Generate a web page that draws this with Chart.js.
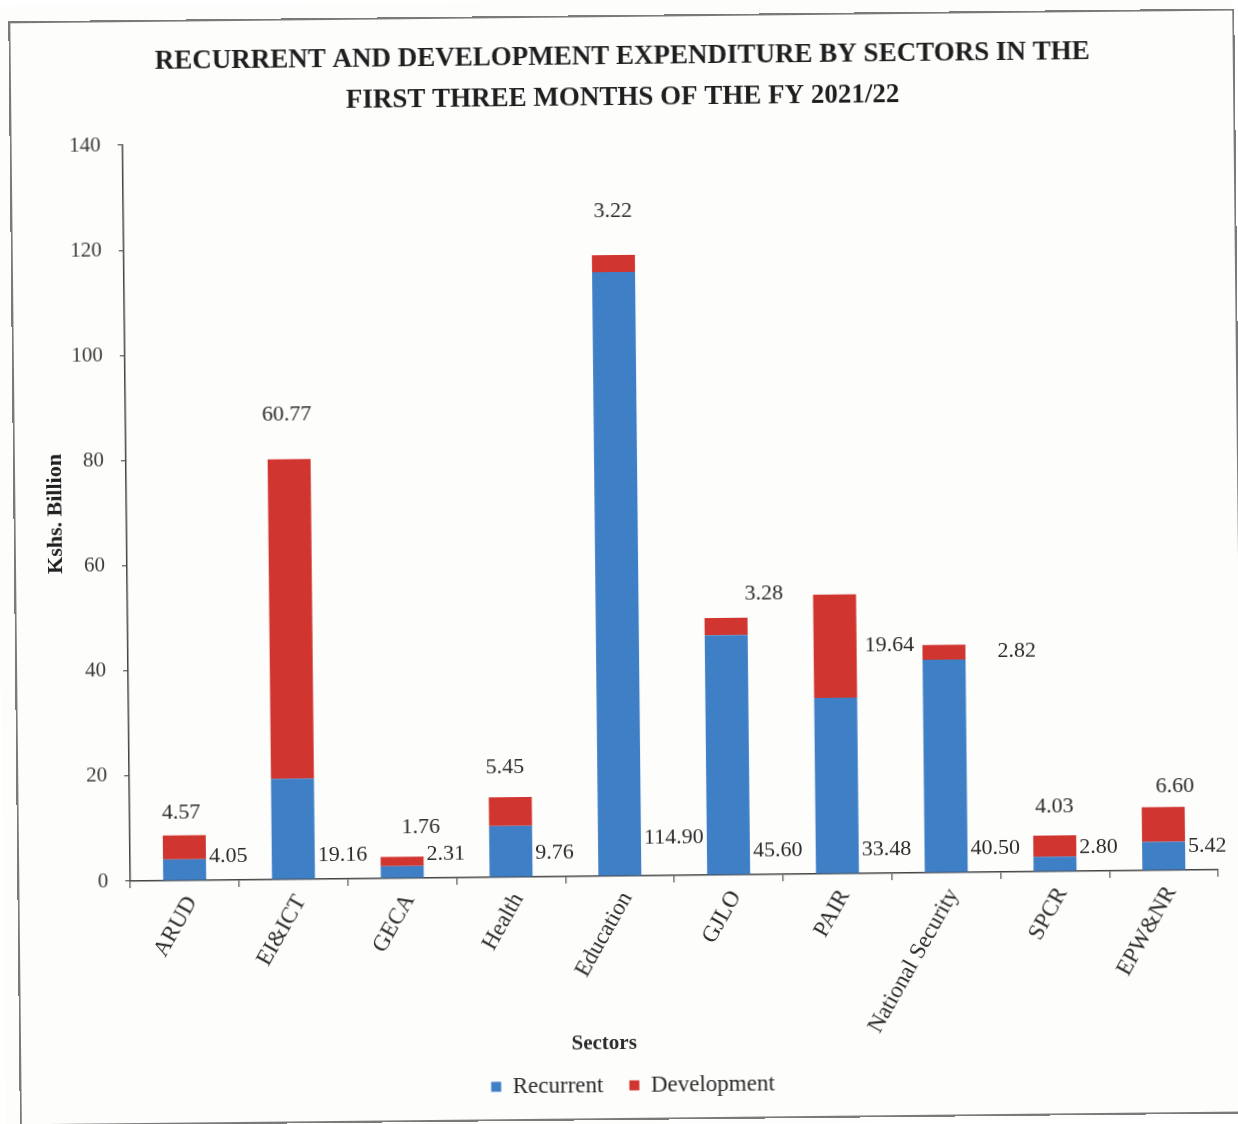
<!DOCTYPE html>
<html>
<head>
<meta charset="utf-8">
<script src="https://cdn.jsdelivr.net/npm/chart.js@4/dist/chart.umd.min.js"></script>
<style>
  html, body { margin: 0; padding: 0; background: #ffffff; overflow: hidden; }
  #wrap { position: relative; width: 1238px; height: 1124px; transform: rotate(-0.6deg); transform-origin: 50% 50%; background: #fdfdfc; }
  #frame { position: absolute; left: 14px; top: 15px; width: 1222px; height: 1101px; border: 2px solid #7a7a7a; pointer-events: none; }
  canvas { position: absolute; left: 0; top: 0; }
</style>
</head>
<body>
<div id="wrap">
  <canvas id="c" width="1238" height="1124"></canvas>
  <div id="frame"></div>
</div>
<script>
// ---- Data ----
const CATEGORIES = ['ARUD', 'EI&ICT', 'GECA', 'Health', 'Education', 'GJLO', 'PAIR', 'National Security', 'SPCR', 'EPW&NR'];
const RECURRENT = [4.05, 19.16, 2.31, 9.76, 114.90, 45.60, 33.48, 40.50, 2.80, 5.42];
const DEVELOPMENT = [4.57, 60.77, 1.76, 5.45, 3.22, 3.28, 19.64, 2.82, 4.03, 6.60];
const Y_TICKS = [0, 20, 40, 60, 80, 100, 120, 140];
const SERIES_NAMES = ['Recurrent', 'Development'];
const TITLE_LINES = ['RECURRENT AND DEVELOPMENT EXPENDITURE BY SECTORS IN THE', 'FIRST THREE MONTHS OF THE FY 2021/22'];
const Y_TITLE = 'Kshs. Billion';
const X_TITLE = 'Sectors';

// ---- Styles / label placement (pixel offsets, not data) ----
const FONT = '"Liberation Serif", "Times New Roman", serif';
const BLUE = '#3f7fc6';
const RED = '#d0352f';
const TEXT = '#2b2b2b';
const DEV_LABEL_PLACE = [
  {mode: 'above', dx: -3, dy: -22},
  {mode: 'above', dx: -2, dy: -45},
  {mode: 'above', dx: 19, dy: -29},
  {mode: 'above', dx: -5, dy: -30},
  {mode: 'above', dx: 0, dy: -44},
  {mode: 'above', dx: 38, dy: -24},
  {mode: 'right', dx: 8, dy: 0},
  {mode: 'right', dx: 32, dy: 0},
  {mode: 'above', dx: 0, dy: -29},
  {mode: 'above', dx: 12, dy: -21}
];
const REC_LABEL_DY = [0, 0, 0, 0, -14, 0, 0, 0, 0, 0];

Chart.defaults.font.family = FONT;
Chart.defaults.color = TEXT;

const valueLabels = {
  id: 'valueLabels',
  afterDatasetsDraw(chart) {
    const ctx = chart.ctx;
    const ys = chart.scales.y;
    const m0 = chart.getDatasetMeta(0);
    const m1 = chart.getDatasetMeta(1);
    ctx.save();
    ctx.font = '22px ' + FONT;
    ctx.fillStyle = TEXT;
    ctx.textBaseline = 'middle';
    m0.data.forEach((bar, i) => {
      const p = bar.getProps(['x', 'width'], true);
      ctx.textAlign = 'left';
      ctx.fillText(RECURRENT[i].toFixed(2), p.x + p.width / 2 + 3, ys.getPixelForValue(0) - 24 + REC_LABEL_DY[i]);
    });
    m1.data.forEach((bar, i) => {
      const p = bar.getProps(['x', 'y', 'base', 'width'], true);
      const pl = DEV_LABEL_PLACE[i];
      const txt = DEVELOPMENT[i].toFixed(2);
      if (pl.mode === 'right') {
        ctx.textAlign = 'left';
        ctx.fillText(txt, p.x + p.width / 2 + pl.dx, (p.y + p.base) / 2 + pl.dy);
      } else {
        ctx.textAlign = 'center';
        ctx.fillText(txt, p.x + pl.dx, p.y + pl.dy);
      }
    });
    // x axis title
    const ca = chart.chartArea;
    ctx.font = 'bold 21px ' + FONT;
    ctx.textAlign = 'center';
    ctx.fillText(X_TITLE, ca.left + ca.width * 0.434, 1044);
    ctx.restore();
  }
};

new Chart(document.getElementById('c'), {
  type: 'bar',
  data: {
    labels: CATEGORIES,
    datasets: [
      { label: SERIES_NAMES[0], data: RECURRENT, backgroundColor: BLUE, borderWidth: 0 },
      { label: SERIES_NAMES[1], data: DEVELOPMENT, backgroundColor: RED, borderWidth: 0 }
    ]
  },
  options: {
    responsive: false,
    animation: false,
    devicePixelRatio: 1,
    layout: { padding: { left: 40, right: 23, top: 0, bottom: 17 } },
    datasets: { bar: { categoryPercentage: 1.0, barPercentage: 0.395 } },
    plugins: {
      title: {
        display: true,
        text: TITLE_LINES,
        color: '#1e1e1e',
        font: { family: FONT, size: 27, weight: 'bold', lineHeight: 1.5 },
        padding: { top: 37, bottom: 22 }
      },
      legend: {
        display: true,
        position: 'bottom',
        labels: {
          font: { family: FONT, size: 23 },
          color: TEXT,
          boxWidth: 10,
          boxHeight: 10,
          padding: 26
        }
      },
      tooltip: { enabled: false }
    },
    scales: {
      x: {
        stacked: true,
        afterFit(s) { s.height = 172; },
        grid: { display: true, drawOnChartArea: false, offset: true, tickLength: 7, color: '#555', lineWidth: 1.2 },
        border: { display: true, color: '#444', width: 1.5 },
        ticks: { autoSkip: false, minRotation: 60, maxRotation: 60, padding: 4, labelOffset: 7, color: TEXT, font: { family: FONT, size: 23 } }
      },
      y: {
        stacked: true,
        min: 0,
        max: 140,
        afterFit(s) { s.width = 87; },
        afterBuildTicks(s) { s.ticks = Y_TICKS.map(v => ({ value: v })); },
        grid: { display: true, drawOnChartArea: false, tickLength: 5, color: '#555', lineWidth: 1.2 },
        border: { display: true, color: '#444', width: 1.5 },
        ticks: { padding: 17, color: '#3a3a3a', font: { family: FONT, size: 21 } },
        title: { display: true, text: Y_TITLE, color: '#1e1e1e', font: { family: FONT, size: 22, weight: 'bold' }, padding: { top: 3, bottom: 0 } }
      }
    }
  },
  plugins: [valueLabels]
});
</script>
</body>
</html>
